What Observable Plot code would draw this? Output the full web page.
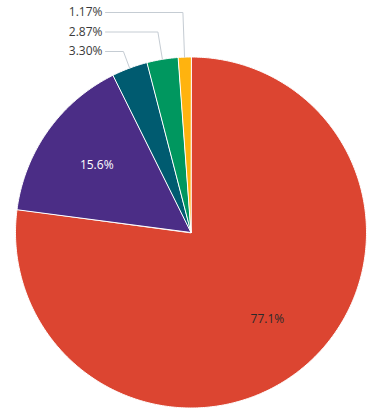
<!DOCTYPE html>
<html>
<head>
<meta charset="utf-8">
<script src="https://cdn.jsdelivr.net/npm/d3@7"></script>
<script src="https://cdn.jsdelivr.net/npm/@observablehq/plot@0.6"></script>
<style>
  html, body { margin: 0; padding: 0; background: #ffffff; }
  #chart svg { display: block; }
</style>
</head>
<body>
<div id="chart"></div>
<script>
// ---- Data ----
const sliceLabels = ["77.1%", "15.6%", "3.30%", "2.87%", "1.17%"];
const sliceValues = [77.1, 15.6, 3.30, 2.87, 1.17];
const sliceColors = ["#dc4531", "#4b2d86", "#005b70", "#00975f", "#ffb30f"];
const insideLabelColors = ["#2a2a2a", "#ffffff", null, null, null];

// ---- Layout ----
const W = 378, H = 417;
const cx = 190.5, cy = 232, R = 175.5;
const outsideThreshold = 5;
const outerLabelTopPx = 12, outerLabelStep = 19.5;
const outerLabelRightPx = 102;

const pie = d3.pie().sort(null).value(d => d)(sliceValues);

// slice polygons (pie geometry from d3.pie angles)
const slicePts = [];
pie.forEach((p, i) => {
  const n = Math.max(2, Math.ceil((p.endAngle - p.startAngle) / 0.01));
  slicePts.push({k: sliceLabels[i], x: 0, y: 0});
  for (let j = 0; j <= n; j++) {
    const a = p.startAngle + (p.endAngle - p.startAngle) * j / n;
    slicePts.push({k: sliceLabels[i], x: R * Math.sin(a), y: R * Math.cos(a)});
  }
});

// labels
const inside = [], outside = [], leaders = [];
const outsideIdx = pie.map((p, i) => i).filter(i => sliceValues[i] < outsideThreshold);
pie.forEach((p, i) => {
  const mid = (p.startAngle + p.endAngle) / 2;
  if (sliceValues[i] >= outsideThreshold) {
    inside.push({t: sliceLabels[i], c: insideLabelColors[i],
      x: 0.66 * R * Math.sin(mid), y: 0.66 * R * Math.cos(mid)});
  } else {
    const order = outsideIdx.length - 1 - outsideIdx.indexOf(i);
    const py = outerLabelTopPx + order * outerLabelStep;
    const ly = cy - py;
    const t = ly / Math.cos(mid);
    const ex = t * Math.sin(mid);
    const lx = outerLabelRightPx - cx;
    outside.push({t: sliceLabels[i], x: lx, y: ly});
    leaders.push({k: sliceLabels[i], x: R * Math.sin(mid), y: R * Math.cos(mid)});
    leaders.push({k: sliceLabels[i], x: ex, y: ly});
    leaders.push({k: sliceLabels[i], x: lx + 3, y: ly});
  }
});

const chart = Plot.plot({
  width: W,
  height: H,
  margin: 0,
  x: {domain: [-cx, W - cx], axis: null},
  y: {domain: [-(H - cy), cy], axis: null},
  color: {domain: sliceLabels, range: sliceColors},
  style: {fontFamily: "'Open Sans', sans-serif", fontSize: "12px", background: "#ffffff"},
  marks: [
    Plot.line(slicePts, {x: "x", y: "y", z: "k", fill: "k", stroke: "#ffffff",
      strokeWidth: 1, strokeLinejoin: "round", curve: "linear-closed"}),
    Plot.line(leaders, {x: "x", y: "y", z: "k", stroke: "#c5ccd3", strokeWidth: 1}),
    Plot.text(inside, {x: "x", y: "y", text: "t", fill: "c", fontSize: 12}),
    Plot.text(outside, {x: "x", y: "y", text: "t", fill: "#3a3a3a", textAnchor: "end", fontSize: 12})
  ]
});
document.getElementById("chart").appendChild(chart);
</script>
</body>
</html>
